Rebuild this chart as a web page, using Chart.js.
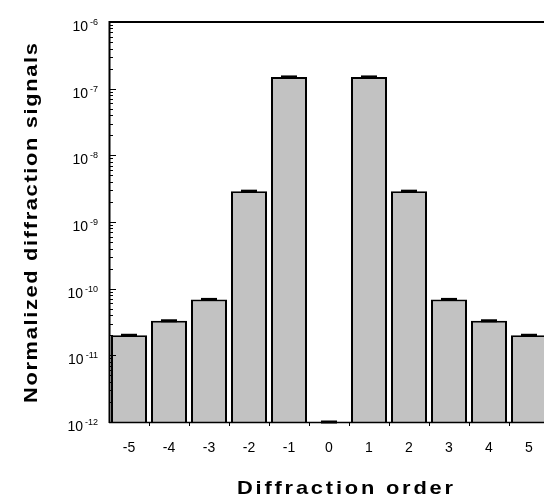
<!DOCTYPE html>
<html>
<head>
<meta charset="utf-8">
<script src="https://cdn.jsdelivr.net/npm/chart.js@4.4.1/dist/chart.umd.min.js"></script>
<style>
  html, body { margin: 0; padding: 0; background: #fff; overflow: hidden; width: 544px; height: 498px; }
  #c { position: absolute; left: 0; top: 0; }
</style>
</head>
<body>
<canvas id="c" width="560" height="498" style="width:560px;height:498px"></canvas>
<script>
// ---- data ----
const categories = ['-5', '-4', '-3', '-2', '-1', '0', '1', '2', '3', '4', '5'];
const signals    = [2.0e-11, 3.3e-11, 6.9e-11, 2.9e-9, 1.5e-7, 1e-12, 1.5e-7, 2.9e-9, 6.9e-11, 3.3e-11, 2.0e-11];
const yExponents = [-12, -11, -10, -9, -8, -7, -6];
const xTitle = 'Diffraction order';
const yTitle = 'Normalized diffraction signals';

const FONT = '"Liberation Sans", Arial, Helvetica, sans-serif';
const TITLE_STRETCH = 1.15;

function spacedText(ctx, text, x, y, spacing) {
  let cx = x;
  for (const ch of text) {
    ctx.fillText(ch, cx, y);
    cx += ctx.measureText(ch).width + spacing;
  }
}
function spacedWidth(ctx, text, spacing) {
  let w = 0;
  for (const ch of text) w += ctx.measureText(ch).width;
  return w + spacing * (text.length - 1);
}
// draw text centred at (cx, baseline y) with given total target width, stretched horizontally
function titleText(ctx, text, cx, y, targetW) {
  ctx.save();
  ctx.translate(cx, y);
  ctx.scale(TITLE_STRETCH, 1);
  let natural = 0;
  for (const ch of text) natural += ctx.measureText(ch).width;
  const sp = Math.max(0, (targetW / TITLE_STRETCH - natural) / (text.length - 1));
  const w = natural + sp * (text.length - 1);
  spacedText(ctx, text, -w / 2, 0, sp);
  ctx.restore();
}

const axesPlugin = {
  id: 'axesPlugin',
  afterDatasetsDraw(chart) {
    const ctx = chart.ctx;
    const xs = chart.scales.x, ys = chart.scales.y;
    const area = chart.chartArea;
    ctx.save();
    ctx.strokeStyle = '#000';
    ctx.fillStyle = '#000';

    ctx.lineWidth = 2;
    ctx.beginPath();
    ctx.moveTo(area.left, area.top);
    ctx.lineTo(area.right, area.top);
    ctx.stroke();
    ctx.beginPath();
    ctx.moveTo(area.left + 0.5, area.top - 1);
    ctx.lineTo(area.left + 0.5, area.bottom + 1);
    ctx.stroke();
    ctx.lineWidth = 1.5;
    ctx.beginPath();
    ctx.moveTo(area.left, area.bottom + 0.5);
    ctx.lineTo(area.right, area.bottom + 0.5);
    ctx.stroke();

    ctx.lineWidth = 1;
    for (let i = 0; i < yExponents.length; i++) {
      const e = yExponents[i];
      const py = ys.getPixelForValue(Math.pow(10, e));
      ctx.beginPath();
      ctx.moveTo(area.left, Math.round(py) + 0.5);
      ctx.lineTo(area.left + 7, Math.round(py) + 0.5);
      ctx.stroke();
      if (i < yExponents.length - 1) {
        for (let m = 2; m <= 9; m++) {
          const pm = ys.getPixelForValue(m * Math.pow(10, e));
          ctx.beginPath();
          ctx.moveTo(area.left, Math.round(pm) + 0.5);
          ctx.lineTo(area.left + 4, Math.round(pm) + 0.5);
          ctx.stroke();
        }
      }
      const rightX = area.left - 11;
      ctx.textAlign = 'right';
      ctx.textBaseline = 'alphabetic';
      ctx.font = '9px ' + FONT;
      const expStr = String(e);
      ctx.fillText(expStr, rightX, py + 3);
      const ew = ctx.measureText(expStr).width;
      ctx.font = '14px ' + FONT;
      ctx.fillText('10', rightX - ew - 2, py + 9);
    }

    for (let i = 0; i < categories.length; i++) {
      const c = xs.getPixelForValue(i);
      const half = (xs.getPixelForValue(1) - xs.getPixelForValue(0)) / 2;
      const bx = Math.round(c + half) + 0.5;
      if (i < categories.length - 1) {
        ctx.beginPath();
        ctx.moveTo(bx, area.bottom);
        ctx.lineTo(bx, area.bottom + 4);
        ctx.stroke();
      }
      ctx.font = '14px ' + FONT;
      ctx.textAlign = 'center';
      ctx.textBaseline = 'alphabetic';
      ctx.fillText(categories[i], c, area.bottom + 30);
    }

    ctx.font = 'bold 19px ' + FONT;
    ctx.textAlign = 'left';
    ctx.textBaseline = 'alphabetic';
    titleText(ctx, xTitle, 345, 494, 216);

    ctx.save();
    ctx.translate(37, (area.top + area.bottom) / 2 + 1);
    ctx.rotate(-Math.PI / 2);
    titleText(ctx, yTitle, 0, 0, 360);
    ctx.restore();

    ctx.restore();
  }
};

new Chart(document.getElementById('c'), {
  type: 'bar',
  data: {
    labels: categories,
    datasets: [
      {
        type: 'line',
        data: signals,
        showLine: false,
        pointStyle: 'line',
        pointRadius: 8,
        pointBorderWidth: 3,
        pointBorderColor: '#000',
        borderColor: '#000',
        clip: false,
        order: 0
      },
      {
        type: 'bar',
        data: signals,
        backgroundColor: '#c2c2c2',
        borderColor: '#000',
        borderWidth: 2,
        borderSkipped: 'start',
        barPercentage: 0.9,
        categoryPercentage: 1.0,
        order: 1
      }
    ]
  },
  options: {
    responsive: false,
    animation: false,
    devicePixelRatio: 1,
    events: [],
    layout: { padding: { left: 109, top: 22, right: 11, bottom: 76 } },
    plugins: { legend: { display: false }, tooltip: { enabled: false } },
    scales: {
      x: { display: false, offset: true },
      y: { type: 'logarithmic', display: false, min: 1e-12, max: 1e-6 }
    }
  },
  plugins: [axesPlugin]
});
</script>
</body>
</html>
